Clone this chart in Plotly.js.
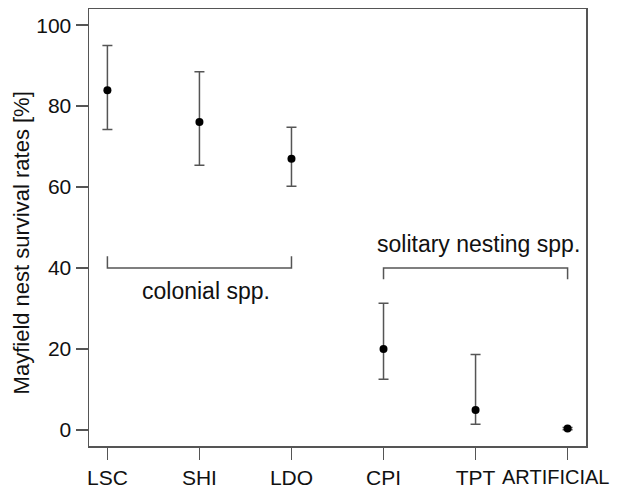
<!DOCTYPE html>
<html>
<head>
<meta charset="utf-8">
<script src="https://cdn.plot.ly/plotly-3.0.1.min.js"></script>
<style>html,body{margin:0;padding:0;background:#fff;}#plot{width:618px;height:491px;}</style>
</head>
<body>
<div id="plot"></div>
<script>
// Data
const categories = ["LSC", "SHI", "LDO", "CPI", "TPT", "ARTIFICIAL"];
const survival = [83.9, 76.1, 67.0, 20.0, 4.9, 0.3];
const upperCI = [95.0, 88.5, 74.8, 31.3, 18.6, 0.6];
const lowerCI = [74.2, 65.4, 60.2, 12.5, 1.4, 0.0];
const yTicks = [0, 20, 40, 60, 80, 100];
const colonialBracketX = [1, 1, 3, 3];
const colonialBracketY = [42.9, 40, 40, 42.9];
const solitaryBracketX = [4, 4, 6, 6];
const solitaryBracketY = [37.2, 40, 40, 37.2];
const groupLabels = ["colonial spp.", "solitary nesting spp."];
const yTitle = "Mayfield nest survival rates [%]";

const xpos = categories.map((c, i) => i + 1);
const lastIdx = categories.length - 1;
// last label is drawn separately (shifted left to fit, as in the original)
const tickText = categories.map((c, i) => i === lastIdx ? "" : c);
const lineCol = "#555555";
const font = "Liberation Sans, Arial, sans-serif";
const txtCol = "#111";

const traces = [
  {
    x: xpos, y: survival, type: "scatter", mode: "markers",
    marker: {color: "#000", size: 8},
    error_y: {
      type: "data", symmetric: false,
      array: upperCI.map((u, i) => u - survival[i]),
      arrayminus: lowerCI.map((l, i) => survival[i] - l),
      color: lineCol, thickness: 1.5, width: 5
    },
    hoverinfo: "skip", showlegend: false
  },
  {
    x: colonialBracketX, y: colonialBracketY, type: "scatter", mode: "lines",
    line: {color: lineCol, width: 1.5}, showlegend: false, hoverinfo: "skip"
  },
  {
    x: solitaryBracketX, y: solitaryBracketY, type: "scatter", mode: "lines",
    line: {color: lineCol, width: 1.5}, showlegend: false, hoverinfo: "skip"
  }
];

const layout = {
  width: 618, height: 491,
  margin: {l: 89, r: 32, t: 9, b: 45, pad: 0},
  paper_bgcolor: "#fff", plot_bgcolor: "#fff",
  font: {family: font, size: 21, color: txtCol},
  showlegend: false,
  xaxis: {
    range: [0.8, 6.2], tickvals: xpos, ticktext: tickText,
    showgrid: false, zeroline: false, showline: true, mirror: true,
    linecolor: lineCol, linewidth: 1.5,
    ticks: "outside", ticklen: 12, tickwidth: 1.5, tickcolor: lineCol,
    tickfont: {family: font, size: 21, color: txtCol}
  },
  yaxis: {
    range: [-4, 104], tickvals: yTicks,
    showgrid: false, zeroline: false, showline: true, mirror: true,
    linecolor: lineCol, linewidth: 1.5,
    ticks: "outside", ticklen: 12, tickwidth: 1.5, tickcolor: lineCol,
    tickfont: {family: font, size: 21, color: txtCol}
  },
  annotations: [
    {x: 2.07, y: 34.2, xref: "x", yref: "y", text: groupLabels[0], showarrow: false,
     font: {family: font, size: 23, color: txtCol}, xanchor: "center", yanchor: "middle"},
    {x: 5.03, y: 45.8, xref: "x", yref: "y", text: groupLabels[1], showarrow: false,
     font: {family: font, size: 23, color: txtCol}, xanchor: "center", yanchor: "middle"},
    {x: -0.136, y: 0.4645, xref: "paper", yref: "paper", text: yTitle,
     textangle: -90, showarrow: false, font: {family: font, size: 22, color: txtCol},
     xanchor: "center", yanchor: "middle"},
    {x: 1.05, y: 0, xref: "paper", yref: "paper", text: categories[lastIdx],
     showarrow: false, font: {family: font, size: 20, color: txtCol},
     xanchor: "right", yanchor: "top", yshift: -18}
  ]
};

Plotly.newPlot("plot", traces, layout, {displayModeBar: false, staticPlot: true});
</script>
</body>
</html>
